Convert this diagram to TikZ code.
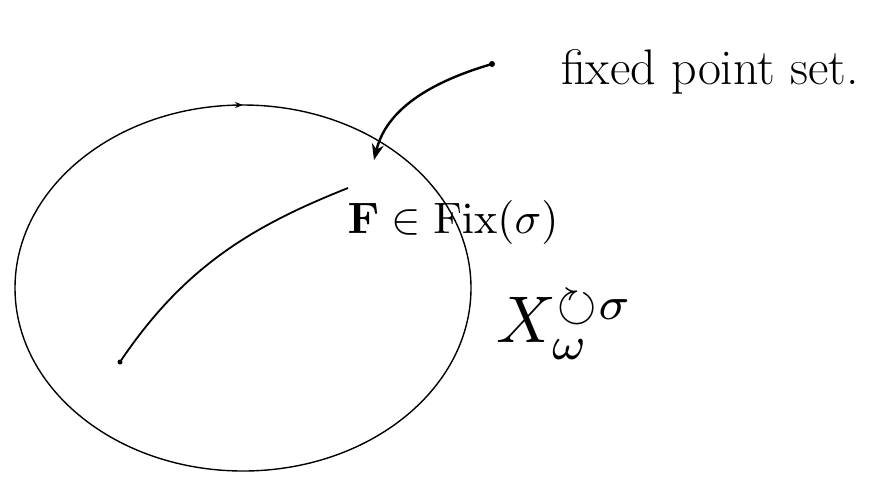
\documentclass[tikz,border=0pt]{standalone}
\usepackage{amsmath,amssymb,mathtools}
\usetikzlibrary{decorations.markings,arrows.meta}

\begin{document}
\begin{tikzpicture}[x=0.5pt, y=-0.5pt]
  \useasboundingbox (0,0) rectangle (882,483);
  % the space, with its orientation mark
  \draw[line width=0.7pt, postaction={decorate},
    decoration={markings, mark=at position 0.75 with {\arrow{Stealth[length=4pt]}}}]
    (243,288) ellipse [x radius=228, y radius=183];
  % the fixed curve
  \coordinate (Fstart) at (120,362);
  \coordinate (Fend) at (348,188);
  \fill (Fstart) circle (2.5);
  \draw[line width=0.9pt] (Fstart) .. controls (185,265) and (255,225) .. (Fend);
  % labels
  \node (fixset) at (710,72) {\fontsize{25}{30}\selectfont fixed point set.};
  \node (Flabel) at (453,222) {\scalebox{2.2}{$\mathbf{F}\in\mathrm{Fix}(\sigma)$}};
  \node (Xlabel) at (565,325) {\scalebox{3.3}{$X_{\omega}^{\circlearrowright\sigma}$}};
  % arrow to the fixed point set
  \coordinate (tail) at (492,64);
  \coordinate (tip) at (374,160);
  \fill (tail) circle (3);
  \draw[line width=1.2pt, -{Stealth[length=8pt]}] (tail) .. controls (420,85) and (385,115) .. (tip);
\end{tikzpicture}
\end{document}
